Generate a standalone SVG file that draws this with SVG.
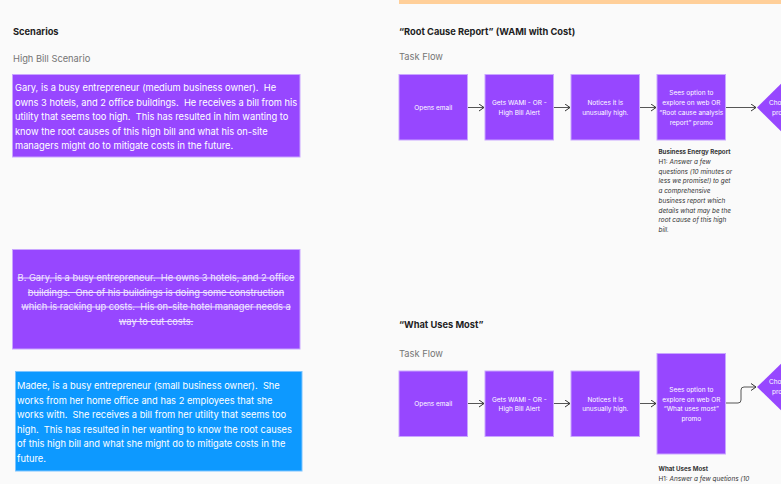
<svg xmlns="http://www.w3.org/2000/svg" width="781" height="484" viewBox="0 0 781 484">
<style>
text{font-family:Inter,"Noto Sans","Liberation Sans",sans-serif;white-space:pre}
.h{font-size:9.3px;font-weight:700;fill:#1e1e1e}
.sub{font-size:9.3px;fill:#757575}
.sc{font-size:9.3px;fill:#fff}
.strike{font-size:9.3px;fill:#f1e8ff;text-decoration:line-through}
.box{fill:#9747ff;stroke:#c9a6ff;stroke-width:1}
.blue{fill:#0d99ff;stroke:#7cc4ff;stroke-width:1}
.ft{font-size:6.5px;fill:#fff;text-anchor:middle}
.nb{font-size:6.2px;font-weight:700;fill:#333}
.ni{font-size:6.4px;font-style:italic;fill:#333}
.nn{font-size:6.4px;fill:#333}
.conn{fill:none;stroke:#555;stroke-width:1}
</style>
<defs>
<marker id="arr" markerWidth="8" markerHeight="8" refX="6" refY="4" orient="auto" markerUnits="userSpaceOnUse">
<path d="M1,0.5 L6,4 L1,7.5" fill="none" stroke="#333" stroke-width="1"/>
</marker>
</defs>
<rect width="781" height="484" fill="#fafafa"/>
<rect x="399" y="0" width="382" height="4" fill="#ffcf99"/>

<g id="scenarios-header">
<text class="h" x="13" y="34.5">Scenarios</text>
<text class="sub" x="13" y="62">High Bill Scenario</text>
</g>

<g id="scenario-gary">
<rect class="box" x="12.5" y="74.5" width="287.5" height="82.5"/>
<text class="sc" x="15" y="91">Gary, is a busy entrepreneur (medium business owner).  He</text>
<text class="sc" x="15" y="105.5">owns 3 hotels, and 2 office buildings.  He receives a bill from his</text>
<text class="sc" x="15" y="120">utility that seems too high.  This has resulted in him wanting to</text>
<text class="sc" x="15" y="134.5">know the root causes of this high bill and what his on-site</text>
<text class="sc" x="15" y="149">managers might do to mitigate costs in the future.</text>
</g>

<g id="scenario-b">
<rect class="box" x="12.5" y="249.5" width="287.5" height="99.5"/>
<g text-anchor="middle">
<text class="strike" x="156" y="281">B. Gary, is a busy entrepreneur.  He owns 3 hotels, and 2 office</text>
<text class="strike" x="156" y="295.5">buildings.  One of his buildings is doing some construction</text>
<text class="strike" x="156" y="310">which is racking up costs.  His on-site hotel manager needs a</text>
<text class="strike" x="156" y="324.5">way to cut costs.</text>
</g>
</g>

<g id="scenario-madee">
<rect class="blue" x="15.5" y="371.5" width="286.5" height="99.5"/>
<text class="sc" x="17" y="389">Madee, is a busy entrepreneur (small business owner).  She</text>
<text class="sc" x="17" y="403.5">works from her home office and has 2 employees that she</text>
<text class="sc" x="17" y="418">works with.  She receives a bill from her utility that seems too</text>
<text class="sc" x="17" y="432.5">high.  This has resulted in her wanting to know the root causes</text>
<text class="sc" x="17" y="447">of this high bill and what she might do to mitigate costs in the</text>
<text class="sc" x="17" y="461.5">future.</text>
</g>

<g id="rcr-header">
<text class="h" x="399" y="34.5">“Root Cause Report” (WAMI with Cost)</text>
<text class="sub" x="399" y="60">Task Flow</text>
</g>

<g id="connectors">
<path class="conn" d="M468,107.5 H484" marker-end="url(#arr)"/>
<path class="conn" d="M554,107.5 H570" marker-end="url(#arr)"/>
<path class="conn" d="M640,107.5 H656" marker-end="url(#arr)"/>
<path class="conn" d="M726,107.5 H756" marker-end="url(#arr)"/>
<path class="conn" d="M468,403.5 H484" marker-end="url(#arr)"/>
<path class="conn" d="M554,403.5 H570" marker-end="url(#arr)"/>
<path class="conn" d="M640,403.5 H656" marker-end="url(#arr)"/>
<path class="conn" d="M726,403 H738 Q741,403 741,400 V390 Q741,387 744,387 H756" marker-end="url(#arr)"/>
</g>

<g id="r1-opens">
<rect class="box" x="399" y="74.5" width="68.5" height="65.5"/>
<text class="ft" x="433.3" y="109.8">Opens email</text>
</g>
<g id="r1-gets">
<rect class="box" x="485" y="74.5" width="68.5" height="65.5"/>
<text class="ft" x="519.3" y="104.8">Gets WAMI - OR -</text>
<text class="ft" x="519.3" y="114.8">High Bill Alert</text>
</g>
<g id="r1-notices">
<rect class="box" x="571" y="74.5" width="68.5" height="65.5"/>
<text class="ft" x="605.3" y="104.8">Notices it is</text>
<text class="ft" x="605.3" y="114.8">unusually high.</text>
</g>
<g id="r1-sees">
<rect class="box" x="657" y="74.5" width="68.5" height="65.5"/>
<text class="ft" x="691.3" y="94.8">Sees option to</text>
<text class="ft" x="691.3" y="104.8">explore on web OR</text>
<text class="ft" x="691.3" y="114.8">“Root cause analysis</text>
<text class="ft" x="691.3" y="124.8">report” promo</text>
</g>
<g id="r1-choose">
<polygon points="757,107.5 795,70 833,107.5 795,145" fill="#9747ff"/>
<text class="ft" x="769" y="104.8" style="text-anchor:start">Cho</text>
<text class="ft" x="772" y="114.8" style="text-anchor:start">pro</text>
</g>
<g id="r1-note">
<text class="nb" x="658.5" y="154">Business Energy Report</text>
<text x="658.5" y="164"><tspan class="nn">H1: </tspan><tspan class="ni">Answer a few</tspan></text>
<text class="ni" x="658.5" y="173.7">questions (10 minutes or</text>
<text class="ni" x="658.5" y="183.4">less we promise!) to get</text>
<text class="ni" x="658.5" y="193.1">a comprehensive</text>
<text class="ni" x="658.5" y="202.8">business report which</text>
<text class="ni" x="658.5" y="212.5">details what may be the</text>
<text class="ni" x="658.5" y="222.2">root cause of this high</text>
<text class="ni" x="658.5" y="231.9">bill.</text>
</g>

<g id="wum-header">
<text class="h" x="399" y="327.8">“What Uses Most”</text>
<text class="sub" x="399" y="357">Task Flow</text>
</g>

<g id="r2-opens">
<rect class="box" x="399" y="371" width="68.5" height="65.5"/>
<text class="ft" x="433.3" y="406.3">Opens email</text>
</g>
<g id="r2-gets">
<rect class="box" x="485" y="371" width="68.5" height="65.5"/>
<text class="ft" x="519.3" y="401.5">Gets WAMI - OR -</text>
<text class="ft" x="519.3" y="411.3">High Bill Alert</text>
</g>
<g id="r2-notices">
<rect class="box" x="571" y="371" width="68.5" height="65.5"/>
<text class="ft" x="605.3" y="401.5">Notices it is</text>
<text class="ft" x="605.3" y="411.3">unusually high.</text>
</g>
<g id="r2-sees">
<rect class="box" x="657" y="353.5" width="68.5" height="100.5"/>
<text class="ft" x="691.3" y="391.8">Sees option to</text>
<text class="ft" x="691.3" y="401.6">explore on web OR</text>
<text class="ft" x="691.3" y="411.4">“What uses most”</text>
<text class="ft" x="691.3" y="421.2">promo</text>
</g>
<g id="r2-choose">
<polygon points="757,387 795,350 833,387 795,424" fill="#9747ff"/>
<text class="ft" x="769" y="384.3" style="text-anchor:start">Cho</text>
<text class="ft" x="772" y="394.3" style="text-anchor:start">pro</text>
</g>
<g id="r2-note">
<text class="nb" x="658.5" y="471">What Uses Most</text>
<text x="658.5" y="481"><tspan class="nn">H1: </tspan><tspan class="ni">Answer a few quetions (10</tspan></text>
</g>
</svg>
